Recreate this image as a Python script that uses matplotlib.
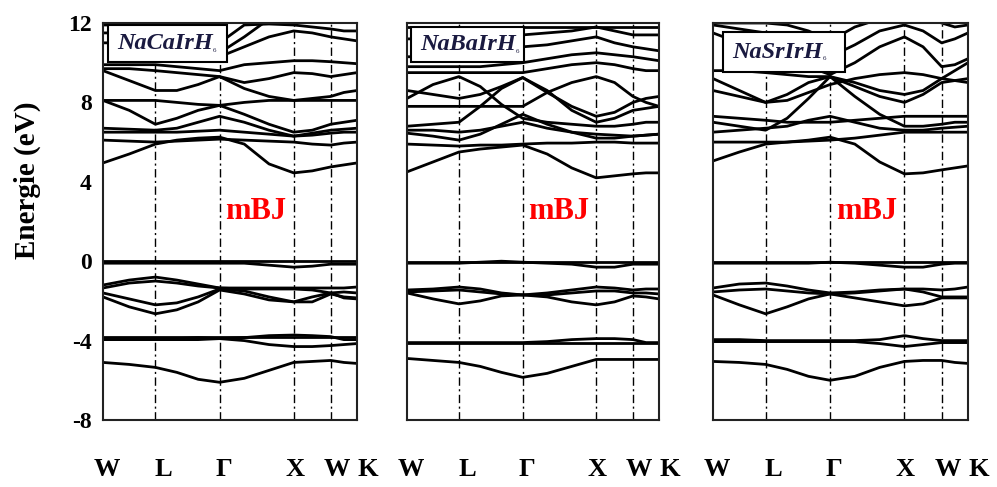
import numpy as np
import matplotlib.pyplot as plt
from matplotlib.patches import Rectangle
from matplotlib.transforms import ScaledTranslation

plt.rcParams['font.family'] = ['Liberation Serif', 'DejaVu Serif']

# high symmetry path of the fcc zone (units of 2pi/a)
k_labels = ["W", "L", "Γ", "X", "W", "K"]
k_ticks = [0.0, 0.707, 1.573, 2.573, 3.073, 3.427]
k_grid = [0.0, 0.354, 0.707, 0.996, 1.284, 1.573, 1.906, 2.240, 2.573, 2.823, 3.073, 3.25, 3.427]
e_ticks = [-8, -4, 0, 4, 8, 12]

compounds = ["NaCaIrH", "NaBaIrH", "NaSrIrH"]

# bands (eV) read at k_grid, one list per band
bands_ca = [
    [-5.1, -5.2, -5.35, -5.6, -5.95, -6.1, -5.9, -5.5, -5.1, -5.05, -5.0, -5.1, -5.15],
    [-3.95, -3.95, -3.95, -3.9, -3.85, -3.9, -3.85, -3.75, -3.72, -3.75, -3.8, -3.95, -3.95],
    [-3.95, -3.95, -3.95, -3.95, -3.95, -3.9, -4.0, -4.2, -4.3, -4.3, -4.25, -4.2, -4.15],
    [-3.8, -3.8, -3.8, -3.8, -3.8, -3.8, -3.8, -3.8, -3.8, -3.8, -3.8, -3.8, -3.8],
    [-1.8, -2.3, -2.65, -2.45, -2.05, -1.45, -1.65, -1.95, -2.05, -2.05, -1.65, -1.8, -1.85],
    [-1.6, -1.9, -2.2, -2.1, -1.8, -1.4, -1.5, -1.8, -2.05, -1.8, -1.6, -1.85, -1.9],
    [-1.35, -1.1, -1.0, -1.1, -1.25, -1.35, -1.4, -1.4, -1.4, -1.45, -1.6, -1.55, -1.6],
    [-1.2, -0.95, -0.8, -0.95, -1.15, -1.35, -1.35, -1.35, -1.35, -1.35, -1.35, -1.35, -1.3],
    [-0.1, -0.1, -0.1, -0.1, -0.1, -0.1, -0.1, -0.2, -0.3, -0.25, -0.15, -0.15, -0.15],
    [0.0, 0.0, 0.0, 0.0, 0.0, 0.0, 0.0, 0.0, 0.0, 0.0, 0.0, 0.0, 0.0],
    [4.95, 5.4, 5.9, 6.1, 6.2, 6.25, 5.9, 4.9, 4.45, 4.55, 4.75, 4.85, 4.95],
    [6.1, 6.05, 6.0, 6.05, 6.1, 6.15, 6.1, 6.05, 6.0, 5.9, 5.85, 5.95, 6.0],
    [6.5, 6.5, 6.5, 6.5, 6.55, 6.6, 6.5, 6.4, 6.3, 6.35, 6.45, 6.5, 6.5],
    [6.7, 6.65, 6.6, 6.7, 7.0, 7.3, 7.0, 6.6, 6.3, 6.45, 6.6, 6.65, 6.7],
    [8.1, 7.6, 6.9, 7.2, 7.6, 7.85, 7.4, 6.9, 6.5, 6.6, 6.9, 7.0, 7.1],
    [8.1, 8.1, 8.1, 8.0, 7.9, 7.85, 8.0, 8.1, 8.1, 8.1, 8.1, 8.1, 8.1],
    [9.6, 9.1, 8.6, 8.6, 8.9, 9.3, 8.7, 8.3, 8.1, 8.2, 8.3, 8.5, 8.6],
    [9.7, 9.7, 9.6, 9.5, 9.4, 9.3, 9.0, 9.2, 9.5, 9.45, 9.3, 9.4, 9.5],
    [9.9, 9.9, 9.9, 9.8, 9.7, 9.6, 9.9, 10.0, 10.1, 10.1, 10.05, 10.0, 9.95],
    [11.0, 11.0, 10.9, 10.8, 10.6, 10.3, 10.8, 11.3, 11.6, 11.5, 11.3, 11.2, 11.1],
    [11.5, 11.5, 11.5, 11.4, 11.0, 10.5, 11.3, 12.2, 12.5, 12.5, 12.5, 12.5, 12.5],
    [11.9, 11.9, 11.9, 11.8, 11.5, 11.0, 11.9, 11.95, 11.9, 11.8, 11.7, 11.6, 11.6],
]

bands_ba = [
    [-4.9, -5.0, -5.1, -5.3, -5.6, -5.85, -5.65, -5.3, -4.95, -4.95, -4.95, -4.95, -4.95],
    [-4.1, -4.1, -4.1, -4.1, -4.1, -4.1, -4.05, -3.95, -3.9, -3.9, -3.95, -4.1, -4.1],
    [-4.1, -4.1, -4.1, -4.1, -4.1, -4.1, -4.1, -4.1, -4.1, -4.1, -4.1, -4.1, -4.1],
    [-1.6, -1.9, -2.15, -2.0, -1.75, -1.7, -1.8, -2.05, -2.2, -2.05, -1.75, -1.8, -1.9],
    [-1.55, -1.5, -1.45, -1.55, -1.65, -1.7, -1.7, -1.6, -1.5, -1.5, -1.6, -1.6, -1.65],
    [-1.45, -1.4, -1.3, -1.4, -1.6, -1.7, -1.6, -1.45, -1.3, -1.35, -1.45, -1.4, -1.4],
    [-0.1, -0.1, -0.1, -0.05, 0.0, -0.05, -0.1, -0.15, -0.3, -0.3, -0.15, -0.15, -0.15],
    [-0.05, -0.05, -0.05, -0.05, -0.05, -0.05, -0.05, -0.05, -0.05, -0.05, -0.05, -0.05, -0.05],
    [4.5, 5.0, 5.5, 5.65, 5.75, 5.85, 5.4, 4.7, 4.2, 4.3, 4.4, 4.45, 4.45],
    [5.9, 5.85, 5.8, 5.85, 5.85, 5.9, 5.95, 5.95, 6.0, 6.0, 5.95, 5.95, 5.95],
    [6.45, 6.3, 6.1, 6.4, 6.9, 7.4, 6.9, 6.5, 6.2, 6.2, 6.3, 6.35, 6.4],
    [6.6, 6.6, 6.5, 6.6, 6.8, 7.0, 6.7, 6.5, 6.4, 6.35, 6.3, 6.35, 6.4],
    [8.2, 8.9, 9.3, 8.8, 7.9, 7.2, 7.0, 6.9, 6.8, 6.8, 6.9, 7.0, 7.0],
    [6.8, 6.9, 7.0, 7.8, 8.7, 9.25, 8.6, 7.6, 7.0, 7.2, 7.6, 7.7, 7.8],
    [7.8, 7.8, 7.8, 7.8, 7.8, 7.8, 8.5, 9.0, 9.3, 9.0, 8.3, 8.0, 7.8],
    [8.6, 8.4, 8.2, 8.4, 8.8, 9.25, 8.5, 7.8, 7.3, 7.5, 8.0, 8.2, 8.3],
    [9.5, 9.5, 9.5, 9.5, 9.5, 9.5, 9.7, 9.9, 10.0, 9.9, 9.7, 9.6, 9.6],
    [9.8, 9.8, 9.8, 9.8, 9.9, 10.0, 10.2, 10.4, 10.5, 10.4, 10.3, 10.2, 10.1],
    [10.3, 10.3, 10.3, 10.4, 10.6, 10.8, 10.9, 11.1, 11.3, 11.0, 10.8, 10.7, 10.6],
    [11.2, 11.2, 11.2, 11.2, 11.3, 11.4, 11.5, 11.6, 11.8, 11.6, 11.4, 11.4, 11.4],
    [11.8, 11.8, 11.8, 11.8, 11.8, 11.8, 11.8, 11.8, 11.8, 11.8, 11.8, 11.8, 11.8],
]

bands_sr = [
    [-5.05, -5.1, -5.2, -5.45, -5.8, -6.0, -5.8, -5.35, -5.05, -5.0, -5.0, -5.1, -5.15],
    [-3.95, -3.95, -4.0, -4.0, -4.0, -4.0, -4.0, -3.95, -3.75, -3.9, -4.0, -4.0, -4.0],
    [-4.05, -4.05, -4.05, -4.05, -4.05, -4.05, -4.05, -4.15, -4.3, -4.2, -4.1, -4.1, -4.1],
    [-1.7, -2.2, -2.65, -2.3, -1.9, -1.65, -1.85, -2.05, -2.25, -2.15, -1.85, -1.85, -1.85],
    [-1.55, -1.45, -1.4, -1.5, -1.6, -1.65, -1.6, -1.5, -1.4, -1.55, -1.8, -1.8, -1.8],
    [-1.35, -1.15, -1.1, -1.25, -1.45, -1.6, -1.55, -1.45, -1.4, -1.4, -1.45, -1.4, -1.3],
    [-0.1, -0.1, -0.1, -0.1, -0.1, -0.05, -0.1, -0.2, -0.3, -0.3, -0.15, -0.1, -0.1],
    [-0.05, -0.05, -0.05, -0.05, -0.05, -0.05, -0.05, -0.05, -0.05, -0.05, -0.05, -0.05, -0.05],
    [5.05, 5.5, 5.9, 6.0, 6.1, 6.25, 5.9, 5.0, 4.4, 4.45, 4.6, 4.7, 4.8],
    [6.0, 6.0, 6.0, 6.0, 6.05, 6.1, 6.2, 6.35, 6.5, 6.5, 6.5, 6.5, 6.5],
    [6.5, 6.6, 6.7, 6.8, 7.1, 7.3, 7.0, 6.7, 6.6, 6.6, 6.7, 6.75, 6.8],
    [7.0, 6.8, 6.6, 7.2, 8.2, 9.3, 8.3, 7.4, 6.8, 6.8, 6.9, 7.0, 7.0],
    [7.3, 7.2, 7.1, 7.0, 7.0, 7.0, 7.1, 7.2, 7.3, 7.3, 7.3, 7.3, 7.3],
    [8.6, 8.3, 8.0, 8.4, 9.0, 9.3, 8.8, 8.3, 8.0, 8.4, 9.0, 9.1, 9.2],
    [9.2, 8.6, 8.0, 8.1, 8.5, 8.9, 9.2, 9.4, 9.5, 9.4, 9.2, 9.1, 9.0],
    [9.6, 9.6, 9.5, 9.4, 9.3, 9.3, 9.0, 8.6, 8.4, 8.6, 9.2, 9.6, 10.0],
    [11.5, 11.0, 10.5, 10.2, 9.8, 9.4, 10.0, 10.8, 11.3, 10.8, 9.8, 9.9, 10.2],
    [11.9, 11.7, 11.5, 11.2, 10.8, 10.3, 10.9, 11.6, 11.9, 11.6, 11.0, 11.2, 11.5],
    [12.0, 12.0, 12.0, 11.9, 11.6, 11.1, 11.8, 12.2, 12.5, 12.3, 12.0, 11.8, 11.9],
]

all_bands = [bands_ca, bands_ba, bands_sr]

fig = plt.figure(figsize=(9.97, 4.87), dpi=100)
W, H = 997.0, 487.0
panels = [(103, 254), (407, 252), (713, 255)]
top, bottom = 23, 420
boxes = [(108, 25, 227, 62), (411, 27, 524, 62), (723, 32, 845, 72)]
label_dx = [4, 8, 4, 1, 6, 0]

for i, (x0, w) in enumerate(panels):
    ax = fig.add_axes([x0 / W, 1 - bottom / H, w / W, (bottom - top) / H])
    for b in all_bands[i]:
        ax.plot(k_grid, b, color="black", lw=2.0, solid_joinstyle="round", zorder=2)
    for kt in k_ticks[1:-1]:
        ax.axvline(kt, color="black", lw=1.0, ls=(0, (6, 2.5, 1.5, 2.5)), zorder=1)
    ax.set_xlim(k_ticks[0], k_ticks[-1])
    ax.set_ylim(e_ticks[0], e_ticks[-1])
    for s in ax.spines.values():
        s.set_linewidth(1.5)
        s.set_color("#222222")
        s.set_zorder(5)

    ax.set_xticks(k_ticks)
    ax.set_xticklabels(k_labels, fontsize=19, fontweight="bold")
    ax.tick_params(axis="x", length=0, pad=27)
    for j, lab in enumerate(ax.get_xticklabels()):
        lab.set_transform(lab.get_transform() + ScaledTranslation(label_dx[j] / 100, 0, fig.dpi_scale_trans))
        if j == len(k_labels) - 1:
            lab.set_horizontalalignment("left")

    ax.set_yticks(e_ticks)
    if i == 0:
        ax.set_yticklabels([str(e) for e in e_ticks], fontsize=17, fontweight="bold")
        ax.tick_params(axis="y", length=0, pad=8)
    else:
        ax.tick_params(axis="y", length=0, labelleft=False)

    # compound label box
    bx0, by0, bx1, by1 = boxes[i]
    r = Rectangle(((bx0 - x0) / w, (bottom - by1) / (bottom - top)),
                  (bx1 - bx0) / w, (by1 - by0) / (bottom - top),
                  transform=ax.transAxes, facecolor="white", edgecolor="black",
                  lw=1.5, zorder=6)
    ax.add_patch(r)
    t = ax.text((bx0 - x0 + 9) / w, (bottom - (by0 + by1) / 2) / (bottom - top), compounds[i],
                transform=ax.transAxes, fontsize=17.5, fontstyle="italic", fontweight="bold",
                color="#1a1a40", va="center", ha="left", zorder=7)
    ax.annotate("6", xy=(1.0, 0.05), xycoords=t, fontsize=5, color="#1a1a40",
                va="bottom", ha="left", zorder=7)

    ax.text(1.65, 2.5, "mBJ", color="#ff0000", fontsize=22, fontweight="bold",
            va="center", ha="left", zorder=4)

fig.text(27 / W, 1 - 180 / H, "Energie (eV)", rotation=90, fontsize=21,
         fontweight="bold", va="center", ha="center")

fig.savefig("out.png", dpi=100)
